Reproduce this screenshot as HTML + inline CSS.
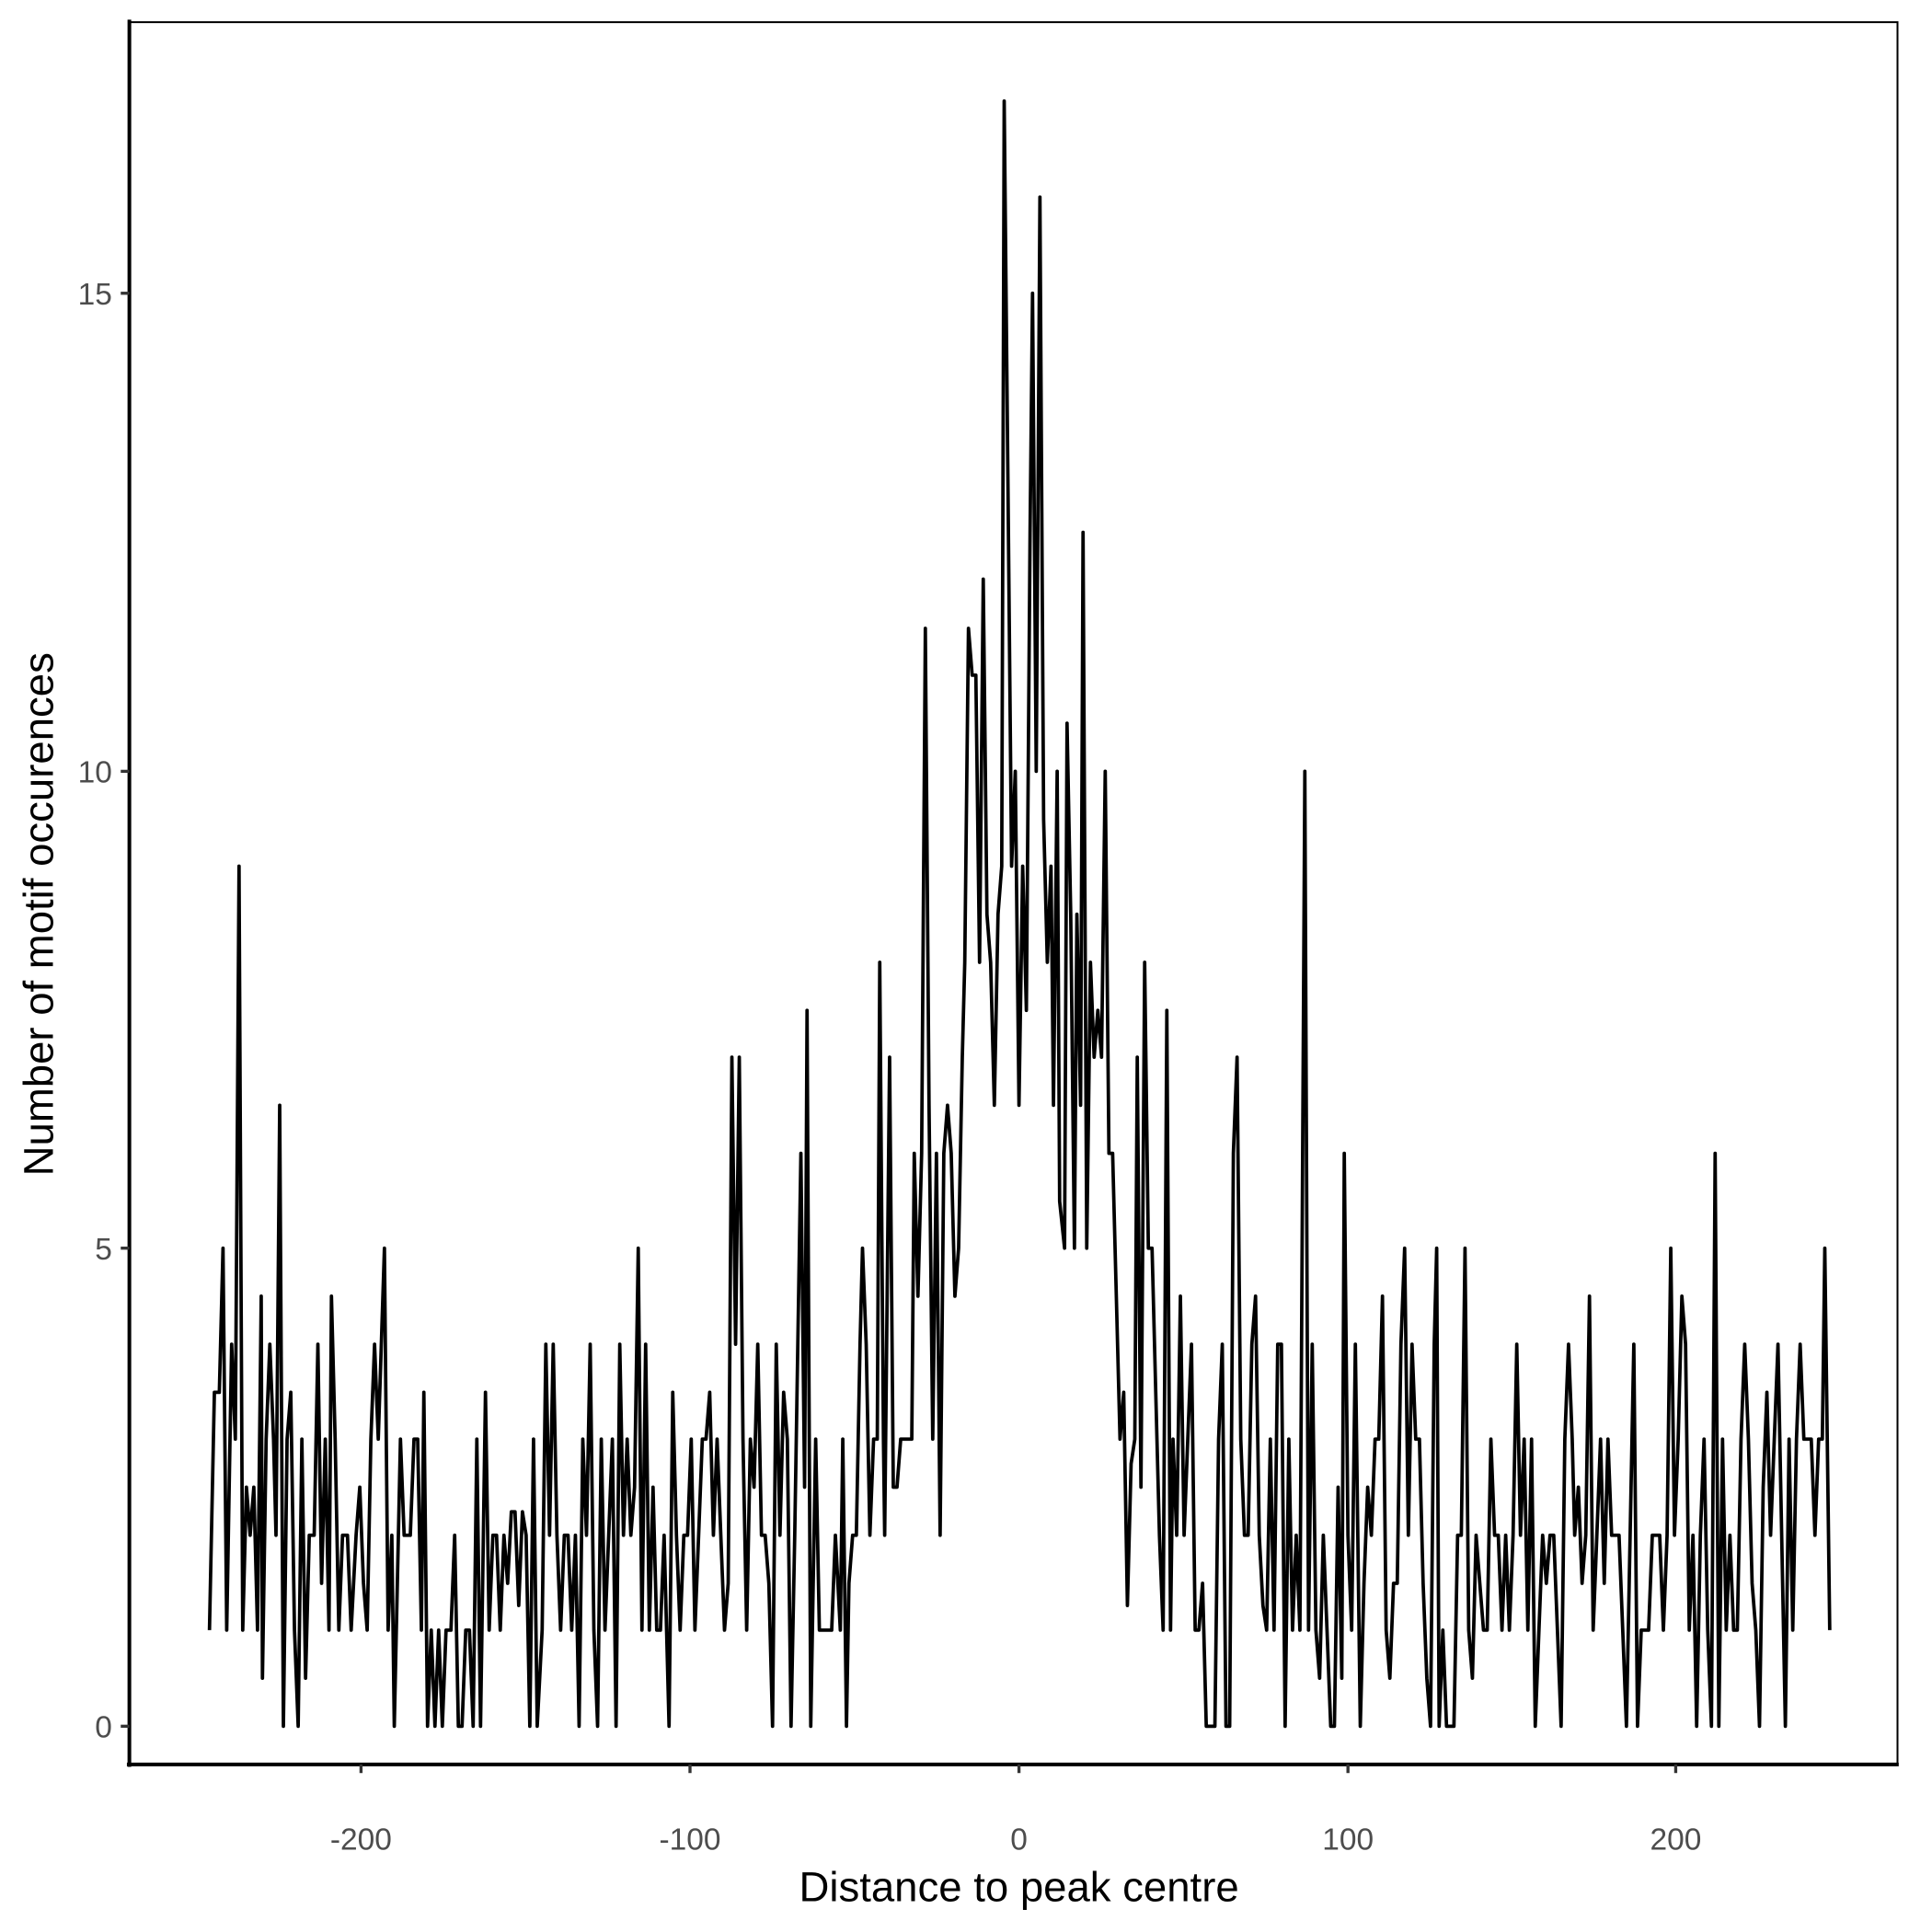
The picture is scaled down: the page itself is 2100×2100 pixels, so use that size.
<!DOCTYPE html>
<html><head><meta charset="utf-8"><style>html,body{margin:0;padding:0;background:#fff}svg{display:block}</style></head>
<body>
<svg width="2100" height="2100" viewBox="0 0 1568 1568" xmlns="http://www.w3.org/2000/svg">
<rect width="1568" height="1568" fill="#fff"/>
<rect x="105" y="18" width="1435" height="1414" fill="none" stroke="#000" stroke-width="1.5"/>
<line x1="105" y1="16" x2="105" y2="1434" stroke="#000" stroke-width="3"/>
<line x1="103" y1="1432" x2="1541" y2="1432" stroke="#000" stroke-width="3"/>
<g stroke="#333" stroke-width="2.5">
<line x1="98" y1="1401" x2="105" y2="1401"/><line x1="98" y1="1013" x2="105" y2="1013"/><line x1="98" y1="626" x2="105" y2="626"/><line x1="98" y1="238" x2="105" y2="238"/>
<line x1="293" y1="1432" x2="293" y2="1439"/><line x1="560" y1="1432" x2="560" y2="1439"/><line x1="827" y1="1432" x2="827" y2="1439"/><line x1="1094" y1="1432" x2="1094" y2="1439"/><line x1="1360" y1="1432" x2="1360" y2="1439"/>
</g>
<g font-family="Liberation Sans, Arial, sans-serif" font-size="25" fill="#4d4d4d">
<g text-anchor="end"><text x="91" y="1410">0</text><text x="91" y="1022">5</text><text x="91" y="635">10</text><text x="91" y="247">15</text></g>
<g text-anchor="middle"><text x="293" y="1501">-200</text><text x="560" y="1501">-100</text><text x="827" y="1501">0</text><text x="1094" y="1501">100</text><text x="1360" y="1501">200</text></g>
</g>
<g font-family="Liberation Sans, Arial, sans-serif" font-size="34" fill="#000" text-anchor="middle">
<text x="827" y="1543">Distance to peak centre</text>
<text transform="translate(43,742) rotate(-90)">Number of motif occurences</text>
</g>
<polyline fill="none" stroke="#000" stroke-width="2.8" stroke-linejoin="round" points="170,1323 174,1130 178,1130 181,1013 184,1323 188,1091 191,1168 194,703 197,1323 200,1207 203,1246 206,1207 209,1323 212,1052 213,1362 216,1168 219,1091 222,1168 224,1246 227,897 230,1401 233,1168 236,1130 239,1323 242,1401 245,1168 248,1362 251,1246 255,1246 258,1091 261,1285 264,1168 267,1323 269,1052 272,1168 275,1323 278,1246 282,1246 285,1323 289,1246 292,1207 295,1285 298,1323 301,1168 304,1091 307,1168 312,1013 315,1323 318,1246 320,1401 325,1168 328,1246 333,1246 336,1168 339,1168 342,1323 344,1130 347,1401 350,1323 353,1401 356,1323 359,1401 362,1323 366,1323 369,1246 372,1401 375,1401 378,1323 381,1323 384,1401 387,1168 390,1401 394,1130 397,1323 400,1246 403,1246 406,1323 409,1246 412,1285 415,1227 418,1227 421,1303 424,1227 427,1246 430,1401 433,1168 436,1401 440,1323 443,1091 446,1246 449,1091 452,1246 455,1323 458,1246 461,1246 464,1323 467,1246 470,1401 473,1168 476,1246 479,1091 482,1323 485,1401 488,1168 491,1323 494,1246 497,1168 500,1401 503,1091 506,1246 509,1168 512,1246 515,1207 518,1013 521,1323 524,1091 527,1323 530,1207 533,1323 536,1323 539,1246 543,1401 546,1130 549,1246 552,1323 555,1246 558,1246 561,1168 564,1323 567,1246 570,1168 573,1168 576,1130 579,1246 582,1168 585,1246 588,1323 591,1285 594,858 597,1091 600,858 603,1168 606,1323 609,1168 612,1207 615,1091 618,1246 621,1246 624,1285 627,1401 630,1091 633,1246 636,1130 639,1168 642,1401 645,1246 650,936 653,1207 655,820 658,1401 662,1168 665,1323 669,1323 675,1323 678,1246 682,1323 684,1168 687,1401 689,1285 692,1246 695,1246 698,1091 700,1013 703,1091 706,1246 709,1168 712,1168 714,781 717,1168 718,1246 722,858 725,1207 728,1207 731,1168 740,1168 742,936 745,1052 748,936 751,510 754,897 757,1168 760,936 763,1246 766,936 769,897 772,936 775,1052 778,1013 781,858 783,781 786,510 789,548 792,548 795,781 798,470 801,742 804,781 807,897 810,742 813,703 815,82 818,387 821,703 824,626 827,897 830,703 833,820 836,432 838,238 841,626 844,160 847,665 850,781 853,703 855,897 858,626 860,975 864,1013 866,587 869,742 872,1013 874,742 877,897 879,432 882,1013 885,781 888,858 891,820 894,858 897,626 900,936 903,936 909,1168 912,1130 915,1303 918,1188 921,1168 923,858 926,1207 929,781 932,1013 935,1013 938,1130 941,1246 944,1323 947,820 950,1323 952,1168 955,1246 958,1052 961,1246 964,1168 967,1091 970,1323 973,1323 976,1285 979,1401 986,1401 989,1168 992,1091 995,1401 998,1401 1001,936 1004,858 1007,1168 1010,1246 1013,1246 1016,1091 1019,1052 1022,1246 1025,1303 1028,1323 1031,1168 1034,1323 1037,1091 1040,1091 1043,1401 1046,1168 1049,1323 1052,1246 1055,1323 1059,626 1062,1323 1065,1091 1068,1323 1071,1362 1074,1246 1077,1323 1080,1401 1083,1401 1086,1207 1089,1362 1091,936 1094,1246 1097,1323 1100,1091 1104,1401 1107,1285 1110,1207 1113,1246 1116,1168 1119,1168 1122,1052 1125,1323 1128,1362 1131,1285 1134,1285 1137,1091 1140,1013 1143,1246 1146,1091 1149,1168 1152,1168 1155,1285 1158,1362 1161,1401 1164,1091 1166,1013 1168,1401 1171,1323 1174,1401 1180,1401 1183,1246 1186,1246 1189,1013 1192,1323 1195,1362 1198,1246 1201,1285 1204,1323 1207,1323 1210,1168 1213,1246 1216,1246 1219,1323 1222,1246 1225,1323 1228,1246 1231,1091 1234,1246 1237,1168 1240,1323 1243,1168 1246,1401 1249,1323 1252,1246 1255,1285 1258,1246 1261,1246 1264,1323 1267,1401 1270,1168 1273,1091 1276,1168 1278,1246 1281,1207 1284,1285 1287,1246 1290,1052 1293,1323 1296,1246 1299,1168 1302,1285 1305,1168 1308,1246 1314,1246 1317,1323 1320,1401 1323,1246 1326,1091 1329,1401 1332,1323 1338,1323 1341,1246 1347,1246 1350,1323 1353,1246 1356,1013 1359,1246 1362,1168 1365,1052 1368,1091 1371,1323 1374,1246 1377,1401 1380,1246 1383,1168 1386,1323 1389,1401 1392,936 1395,1401 1398,1168 1401,1323 1404,1246 1407,1323 1410,1323 1413,1168 1416,1091 1419,1168 1422,1285 1425,1323 1428,1401 1431,1207 1434,1130 1437,1246 1440,1168 1443,1091 1446,1246 1449,1401 1452,1168 1455,1323 1458,1168 1461,1091 1464,1168 1470,1168 1473,1246 1476,1168 1479,1168 1481,1013 1485,1323"/>
</svg>
</body></html>
